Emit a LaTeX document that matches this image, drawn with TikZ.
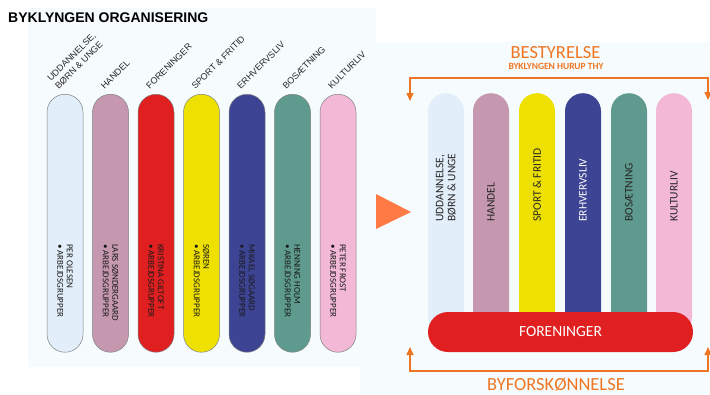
\documentclass[tikz,border=0pt]{standalone}
\usepackage{fontspec}
\setmainfont{Liberation Sans}
\newfontfamily\dinfont{Carlito}
\usepackage{tikz}
\usetikzlibrary{calc,positioning,arrows.meta}
\definecolor{bybg}{HTML}{F6FCFD}
\definecolor{bylight}{HTML}{E2EEF9}
\definecolor{bymauve}{HTML}{C598B0}
\definecolor{byred}{HTML}{E02020}
\definecolor{byyellow}{HTML}{EEE000}
\definecolor{bynavy}{HTML}{3D4494}
\definecolor{byteal}{HTML}{5E9B8E}
\definecolor{bypink}{HTML}{F2B8D6}
\definecolor{byorange}{HTML}{EE7623}
\definecolor{byarrow}{HTML}{FF7A45}

\begin{document}
\begin{tikzpicture}[x=1pt,y=-1pt,
  pill/.style={draw=black!50,line width=0.5pt,rounded corners=18pt,minimum width=36pt,minimum height=258pt,inner sep=0pt,anchor=north},
  col/.style={rounded corners=18pt,minimum width=36pt,minimum height=242pt,inner sep=0pt,anchor=north},
  topic/.style={rotate=45,anchor=south west,inner sep=0pt,align=left,font=\fontsize{9}{11}\selectfont,text=black!85},
  who/.style={rotate=-90,anchor=west,inner sep=0pt,align=left,font=\dinfont\fontsize{9}{9.5}\selectfont,text=black!90},
  area/.style={rotate=90,anchor=west,inner sep=0pt,align=left,font=\dinfont\fontsize{11.5}{12}\selectfont,text=black!85},
  bracket/.style={draw=byorange,line width=1.6pt,{Triangle[width=7pt,length=8pt]}-{Triangle[width=7pt,length=8pt]}}]
\useasboundingbox (0,0) rectangle (710,394);
\fill[bybg] (28,8) rectangle (376,367);
\fill[bybg] (360,42) rectangle (710,394);
\node[anchor=west,inner sep=0pt,font=\bfseries\fontsize{14}{16}\selectfont] (title) at (8,18) {BYKLYNGEN ORGANISERING};
% left: groups with contact person
\node[pill,fill=bylight] (p1) at (65,94) {};\node[pill,fill=bymauve] (p2) at (110.5,94) {};\node[pill,fill=byred] (p3) at (156,94) {};\node[pill,fill=byyellow] (p4) at (201.5,94) {};\node[pill,fill=bynavy] (p5) at (247,94) {};\node[pill,fill=byteal] (p6) at (292.5,94) {};\node[pill,fill=bypink] (p7) at (338,94) {};
\node[topic] (t1) at (59,90) {UDDANNELSE,\\BØRN \& UNGE};\node[topic] (t2) at (104.5,90) {HANDEL};\node[topic] (t3) at (150,90) {FORENINGER};\node[topic] (t4) at (195.5,90) {SPORT \& FRITID};\node[topic] (t5) at (241,90) {ERHVERVSLIV};\node[topic] (t6) at (286.5,90) {BOSÆTNING};\node[topic] (t7) at (332,90) {KULTURLIV};
\node[who] (w1) at (65,244) {PER OLESEN\\• ARBEJDSGRUPPER};\node[who] (w2) at (110.5,244) {LARS SØNDERGAARD\\• ARBEJDSGRUPPER};\node[who] (w3) at (156,244) {KRISTINA GILTOFT\\• ARBEJDSGRUPPER};\node[who] (w4) at (201.5,244) {SØREN\\• ARBEJDSGRUPPER};\node[who] (w5) at (247,244) {MIKAEL SØGAARD\\• ARBEJDSGRUPPER};\node[who] (w6) at (292.5,244) {HENNING HOLM\\• ARBEJDSGRUPPER};\node[who] (w7) at (338,244) {PETER FROST\\• ARBEJDSGRUPPER};
\fill[byarrow] (376,194) -- (411,212) -- (376,229) -- cycle;
% right: new structure
\node[font=\dinfont\fontsize{18.5}{20}\selectfont,text=byorange,inner sep=0pt] (board) at (555.5,53) {BESTYRELSE};
\node[font=\dinfont\bfseries\fontsize{9.5}{11}\selectfont,text=byorange,inner sep=0pt] (boardsub) at (556,66) {BYKLYNGEN HURUP THY};
\node[col,fill=bylight] (q1) at (446,93) {};\node[col,fill=bymauve] (q2) at (491,93) {};\node[col,fill=byyellow] (q3) at (537,93) {};\node[col,fill=bynavy] (q4) at (583,93) {};\node[col,fill=byteal] (q5) at (629,93) {};\node[col,fill=bypink] (q6) at (674,93) {};
\node[area] (a1) at (446,222) {UDDANNELSE,\\BØRN \& UNGE};\node[area] (a2) at (491,222) {HANDEL};\node[area] (a3) at (537,222) {SPORT \& FRITID};\node[area,text=white] (a4) at (583,222) {ERHVERVSLIV};\node[area] (a5) at (629,222) {BOSÆTNING};\node[area] (a6) at (674,222) {KULTURLIV};
\node[fill=byred,rounded corners=20pt,minimum width=265pt,minimum height=40pt,inner sep=0pt,text=white,font=\dinfont\fontsize{15.5}{17}\selectfont] (forn) at (560.5,332) {FORENINGER};
\node[font=\dinfont\fontsize{18.5}{20}\selectfont,text=byorange,inner sep=0pt] (town) at (556,385) {BYFORSKØNNELSE};
\coordinate (tl) at (410,78);\coordinate (tr) at (708,78);\coordinate (tlend) at (410,101);\coordinate (trend) at (708,100);
\coordinate (bl) at (410,371);\coordinate (br) at (708,371);\coordinate (blend) at (410,347);\coordinate (brend) at (708,347);
\draw[bracket] (tlend) -- (tl) -- (tr) -- (trend);
\draw[bracket] (blend) -- (bl) -- (br) -- (brend);
\end{tikzpicture}
\end{document}
